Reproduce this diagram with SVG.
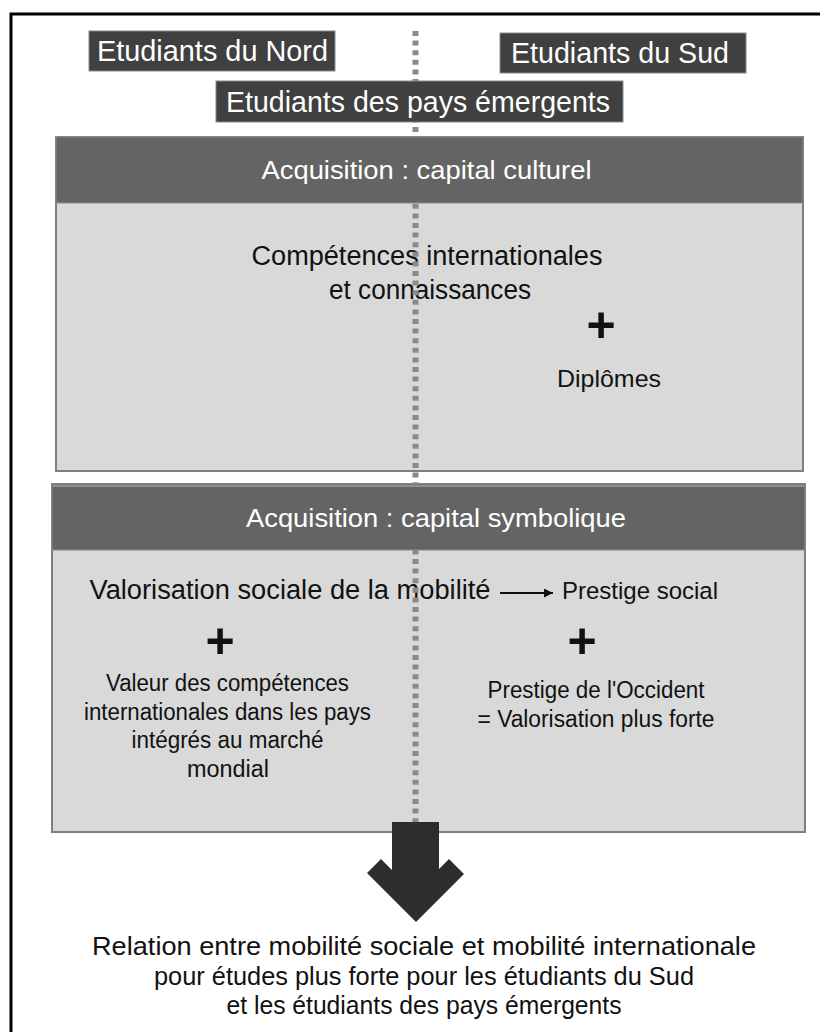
<svg xmlns="http://www.w3.org/2000/svg" width="820" height="1032" viewBox="0 0 820 1032">
<defs>
<style>
.dark{fill:#404040;stroke:#8a8a8a;stroke-width:1}
.hdr{fill:#646464}
.body{fill:#d9d9d9;stroke:#7f7f7f;stroke-width:2}
.wt{font-family:"Liberation Sans",Arial,sans-serif;fill:#ffffff;text-anchor:middle}
.bt{font-family:"Liberation Sans",Arial,sans-serif;fill:#111111;text-anchor:middle}
.plus{font-family:"Liberation Sans",Arial,sans-serif;font-weight:bold;font-size:50px;fill:#111111;text-anchor:middle}
</style>
<marker id="ah" viewBox="0 0 10 10" refX="10" refY="5" markerWidth="10" markerHeight="9" markerUnits="userSpaceOnUse" orient="auto">
<path d="M0,0 L10,5 L0,10 Z" fill="#111111"/>
</marker>
</defs>
<rect x="0" y="0" width="820" height="1032" fill="#ffffff"/>
<g id="frame">
<rect x="11" y="14" width="830" height="1040" fill="none" stroke="#000000" stroke-width="3"/>
</g>
<g id="box-culturel-body">
<rect class="body" x="56" y="137" width="747" height="334"/>
</g>
<g id="box-symbolique-body">
<rect class="body" x="52" y="484" width="753" height="348"/>
</g>
<g id="body-texts">
<text class="bt" x="427" y="265" font-size="27" textLength="351" lengthAdjust="spacingAndGlyphs">Compétences internationales</text>
<text class="bt" x="430" y="299" font-size="27" textLength="202" lengthAdjust="spacingAndGlyphs">et connaissances</text>
<text class="plus" x="601" y="342">+</text>
<text class="bt" x="609" y="387" font-size="24" textLength="104" lengthAdjust="spacingAndGlyphs">Diplômes</text>
<text class="bt" x="290" y="599" font-size="27" textLength="401" lengthAdjust="spacingAndGlyphs">Valorisation sociale de la mobilité</text>
<text class="bt" x="640" y="599" font-size="24.5" textLength="156" lengthAdjust="spacingAndGlyphs">Prestige social</text>
<text class="plus" x="220" y="658">+</text>
<text class="plus" x="582" y="658">+</text>
<text class="bt" x="227.5" y="691" font-size="23" textLength="243" lengthAdjust="spacingAndGlyphs">Valeur des compétences</text>
<text class="bt" x="227.5" y="720" font-size="23" textLength="287" lengthAdjust="spacingAndGlyphs">internationales dans les pays</text>
<text class="bt" x="227.5" y="748" font-size="23" textLength="192" lengthAdjust="spacingAndGlyphs">intégrés au marché</text>
<text class="bt" x="228" y="777" font-size="23" textLength="82" lengthAdjust="spacingAndGlyphs">mondial</text>
<text class="bt" x="596" y="698" font-size="23" textLength="217" lengthAdjust="spacingAndGlyphs">Prestige de l'Occident</text>
<text class="bt" x="596" y="727" font-size="23" textLength="237" lengthAdjust="spacingAndGlyphs">= Valorisation plus forte</text>
</g>
<g id="divider">
<line x1="415.5" y1="31" x2="415.5" y2="826" stroke="#8a8a8a" stroke-width="6" stroke-dasharray="5 4.6"/>
</g>
<g id="nord">
<rect class="dark" x="89" y="31" width="246" height="40"/>
<text class="wt" x="212.5" y="61" font-size="30" textLength="231" lengthAdjust="spacingAndGlyphs">Etudiants du Nord</text>
</g>
<g id="sud">
<rect class="dark" x="500" y="33" width="246" height="40"/>
<text class="wt" x="620" y="63" font-size="30" textLength="218" lengthAdjust="spacingAndGlyphs">Etudiants du Sud</text>
</g>
<g id="emergents">
<rect class="dark" x="216" y="81" width="407" height="41"/>
<text class="wt" x="418" y="111.5" font-size="30" textLength="384" lengthAdjust="spacingAndGlyphs">Etudiants des pays émergents</text>
</g>
<g id="header-culturel">
<rect class="hdr" x="56" y="137" width="747" height="66" stroke="#8a8a8a" stroke-width="1"/>
<text class="wt" x="426.5" y="179" font-size="26" textLength="330" lengthAdjust="spacingAndGlyphs">Acquisition : capital culturel</text>
</g>
<g id="header-symbolique">
<rect class="hdr" x="52" y="484" width="753" height="66" stroke="#8a8a8a" stroke-width="1"/>
<line x1="53" y1="486" x2="804" y2="486" stroke="#8f8f8f" stroke-width="2"/>
<text class="wt" x="436" y="527" font-size="26.5" textLength="380" lengthAdjust="spacingAndGlyphs">Acquisition : capital symbolique</text>
</g>
<g id="connectors">
<line x1="500" y1="593" x2="553" y2="593" stroke="#111111" stroke-width="2" marker-end="url(#ah)"/>
<polygon points="392,822 439,822 439,869 449,859 464,874 416,922 367,873 381,859 392,870" fill="#2d2d2d"/>
</g>
<g id="conclusion">
<text class="bt" x="424" y="955" font-size="26" textLength="664" lengthAdjust="spacingAndGlyphs">Relation entre mobilité sociale et mobilité internationale</text>
<text class="bt" x="424" y="984.5" font-size="26" textLength="540" lengthAdjust="spacingAndGlyphs">pour études plus forte pour les étudiants du Sud</text>
<text class="bt" x="424" y="1014" font-size="26" textLength="395" lengthAdjust="spacingAndGlyphs">et les étudiants des pays émergents</text>
</g>
</svg>
